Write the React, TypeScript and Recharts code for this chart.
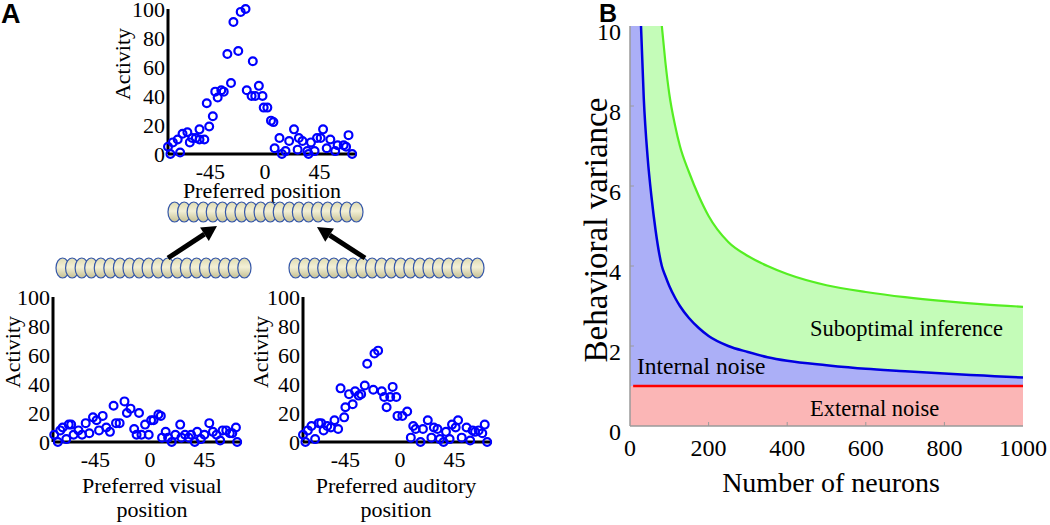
import React from 'react';
import {
  ScatterChart, Scatter, ComposedChart, Area, Line, XAxis, YAxis, ReferenceLine,
} from 'recharts';

// Panel A: population activity
const combinedPos = [-80, -78, -76, -72, -70, -68, -64, -62, -60, -57, -54, -54, -50, -48, -46, -43, -41, -39, -36, -34, -31, -28, -26, -22, -20, -16, -15, -11, -10, -8, -5, -2, -1, 2, 5, 7, 8, 12, 14, 17, 20, 24, 27, 28, 31, 35, 36, 38, 41, 43, 46, 48, 51, 54, 58, 60, 65, 67, 69, 72];
const combinedAct = [5, 0, 8, 10, 1, 14, 15, 8, 11, 11, 17, 10, 10, 35, 19, 26, 43, 39, 44, 43, 69, 49, 91, 71, 98, 100, 44, 40, 64, 40, 47, 40, 32, 32, 23, 22, 4, 11, 0, 2, 9, 17, 3, 11, 9, 2, 0, 8, 2, 11, 11, 17, 4, 10, 2, 6, 6, 5, 13, 0];

const visualPos = [-79, -76, -74, -72, -69, -67, -65, -63, -59, -56, -53, -50, -47, -44, -42, -39, -36, -33, -30, -28, -25, -21, -19, -16, -13, -11, -9, -7, -4, -1, 1, 3, 7, 9, 10, 13, 15, 18, 21, 25, 26, 29, 32, 34, 37, 39, 42, 45, 49, 52, 55, 58, 60, 63, 66, 68, 71, 72];
const visualAct = [5, 0, 8, 10, 2, 12, 12, 5, 8, 5, 13, 6, 17, 15, 8, 18, 10, 7, 25, 13, 13, 28, 20, 23, 9, 5, 20, 5, 12, 5, 15, 15, 19, 18, 3, 7, 3, 0, 5, 12, 3, 5, 3, 5, 0, 7, 2, 5, 13, 7, 5, 1, 8, 8, 6, 6, 10, 0];

const auditoryPos = [-80, -78, -76, -73, -70, -67, -65, -63, -60, -57, -54, -51, -49, -46, -45, -42, -39, -37, -34, -32, -29, -27, -22, -21, -18, -15, -13, -11, -8, -6, -3, -2, 2, 6, 9, 11, 13, 17, 19, 23, 26, 28, 31, 33, 36, 38, 41, 43, 46, 48, 51, 55, 58, 60, 62, 65, 68, 70, 72];
const auditoryAct = [5, 0, 8, 11, 2, 13, 13, 8, 11, 10, 15, 9, 37, 17, 24, 33, 26, 35, 32, 33, 39, 54, 36, 61, 63, 35, 31, 24, 31, 38, 31, 18, 18, 21, 3, 11, 9, 0, 9, 15, 3, 10, 9, 2, 0, 7, 2, 12, 10, 15, 3, 10, 1, 8, 7, 8, 6, 12, 0];

const positionTicks = [-45, 0, 45];
const activityTicks = [0, 20, 40, 60, 80, 100];
const neuronCount = 20;

// Panel B: behavioural variance vs number of neurons
const neurons = [28, 35, 45, 55, 65, 81, 90, 100, 115, 127, 150, 175, 200, 250, 300, 350, 400, 500, 600, 700, 800, 900, 1000];
const internalNoise = [10, 8.2, 6.7, 5.7, 4.9, 4.0, 3.75, 3.5, 3.2, 3.0, 2.7, 2.45, 2.25, 2.0, 1.85, 1.72, 1.63, 1.52, 1.43, 1.37, 1.31, 1.26, 1.21];
const suboptimal = [null, null, null, null, null, 10, 9.1, 8.3, 7.5, 7.0, 6.35, 5.75, 5.25, 4.6, 4.25, 4.0, 3.8, 3.52, 3.35, 3.22, 3.12, 3.04, 2.98];
const externalNoise = 1;
const varianceMax = 10;
const neuronTicks = [0, 200, 400, 600, 800, 1000];
const varianceTicks = [0, 2, 4, 6, 8, 10];

const serif = '"Liberation Serif", "Times New Roman", serif';
const sans = '"Liberation Sans", Arial, sans-serif';

const ring = (p: any) => (
  <circle cx={p.cx} cy={p.cy} r={3.9} fill="none" stroke="#0000ff" strokeWidth={2.2} />
);

const makeTick = (size: number, axis: 'x' | 'y', shift = 0) => (p: any) => (
  <text x={p.x} y={p.y + shift} textAnchor={axis === 'x' ? 'middle' : 'end'}
    dy={axis === 'x' ? '0.71em' : '0.355em'} fontSize={size} fontFamily={serif} fill="#000">
    {p.payload.value}
  </text>
);

function ActivityPlot({ left, top, width, margin, yWidth, pos, act }: any) {
  const points = pos.map((p: number, i: number) => ({ pos: p, act: act[i] }));
  return (
    <div style={{ position: 'absolute', left, top }}>
      <ScatterChart width={width} height={200} margin={margin}>
        <XAxis type="number" dataKey="pos" domain={[-80, 76]} ticks={positionTicks} interval={0}
          axisLine={{ stroke: '#000', strokeWidth: 3 }} tickLine={false} tickSize={0} tickMargin={9}
          height={30} tick={makeTick(22, 'x')} />
        <YAxis type="number" dataKey="act" domain={[0, 100]} ticks={activityTicks} interval={0}
          axisLine={{ stroke: '#000', strokeWidth: 3 }} tickLine={false} tickSize={0} tickMargin={3}
          width={yWidth} tick={makeTick(22, 'y')} />
        <Scatter data={points} shape={ring} isAnimationActive={false} />
      </ScatterChart>
    </div>
  );
}

function NeuronRow({ x, y }: { x: number; y: number }) {
  const rx = 6.6;
  const step = (195 - 2 * rx) / (neuronCount - 1);
  return (
    <g>
      {Array.from({ length: neuronCount }, (_, i) => (
        <ellipse key={i} cx={x + rx + i * step} cy={y} rx={rx} ry={10}
          fill="url(#neuronFill)" stroke="#3557a8" strokeWidth={1.2} />
      ))}
    </g>
  );
}

function Arrow({ x1, y1, x2, y2 }: any) {
  const a = Math.atan2(y2 - y1, x2 - x1);
  const head = 15, half = 8;
  const bx = x2 - head * Math.cos(a), by = y2 - head * Math.sin(a);
  const px = -Math.sin(a) * half, py = Math.cos(a) * half;
  return (
    <g>
      <line x1={x1} y1={y1} x2={bx} y2={by} stroke="#000" strokeWidth={5} />
      <polygon points={`${x2},${y2} ${bx + px},${by + py} ${bx - px},${by - py}`} fill="#000" />
    </g>
  );
}

function VariancePlot() {
  const rows: any[] = [{ n: 0, internal: [externalNoise, varianceMax], sub: null, blue: null, green: null }];
  neurons.forEach((n, i) => {
    const b = internalNoise[i];
    const g = suboptimal[i];
    rows.push({
      n,
      internal: [externalNoise, b],
      sub: [b, g === null ? varianceMax : g],
      blue: b,
      green: g,
    });
  });
  rows.forEach((r) => { r.ext = [0, externalNoise]; });
  return (
    <div style={{ position: 'absolute', left: 560, top: 0 }}>
      <ComposedChart width={490} height={525} data={rows} margin={{ top: 26, right: 27, bottom: 59, left: 0 }}>
        <XAxis type="number" dataKey="n" domain={[0, 1000]} ticks={neuronTicks} interval={0}
          axisLine={{ stroke: '#9a9a9a', strokeWidth: 1.5 }} tickLine={false} tickSize={0} tickMargin={13}
          height={40} tick={makeTick(24, 'x')} />
        <YAxis type="number" domain={[0, varianceMax]} ticks={varianceTicks} interval={0}
          axisLine={{ stroke: '#9a9a9a', strokeWidth: 1.5 }} tickLine={false} tickSize={0} tickMargin={9}
          width={70} tick={makeTick(24, 'y', 5)} />
        <Area dataKey="ext" type="linear" stroke="none" fill="#fbb6b6" fillOpacity={1} isAnimationActive={false} />
        <Area dataKey="internal" type="monotone" stroke="none" fill="#abaff7" fillOpacity={1} isAnimationActive={false} />
        <Area dataKey="sub" type="monotone" stroke="none" fill="#c4fcb8" fillOpacity={1} isAnimationActive={false} />
        {neuronTicks.slice(1, -1).map((t) => (
          <ReferenceLine key={'x' + t} segment={[{ x: t, y: 0 }, { x: t, y: 0.1 }]} stroke="#9a9a9a" />
        ))}
        {varianceTicks.slice(1, -1).map((t) => (
          <ReferenceLine key={'y' + t} segment={[{ x: 0, y: t }, { x: 10, y: t }]} stroke="#9a9a9a" />
        ))}
        <ReferenceLine segment={[{ x: 8, y: externalNoise }, { x: 1000, y: externalNoise }]} stroke="#ff0000" strokeWidth={2.5} />
        <Line dataKey="blue" type="monotone" stroke="#0000e0" strokeWidth={2.5} dot={false} isAnimationActive={false} />
        <Line dataKey="green" type="monotone" stroke="#55ee22" strokeWidth={2.2} dot={false} isAnimationActive={false} />
      </ComposedChart>
    </div>
  );
}

export default function App() {
  return (
    <div style={{ position: 'absolute', left: 0, top: 0, width: 1050, height: 525, background: '#fff', overflow: 'hidden' }}>
      <ActivityPlot left={100} top={1} width={270} margin={{ top: 8, right: 13, bottom: 17, left: 0 }} yWidth={68}
        pos={combinedPos} act={combinedAct} />
      <ActivityPlot left={0} top={280} width={260} margin={{ top: 17, right: 18, bottom: 8, left: 0 }} yWidth={53}
        pos={visualPos} act={visualAct} />
      <ActivityPlot left={250} top={280} width={260} margin={{ top: 17, right: 18, bottom: 8, left: 0 }} yWidth={53}
        pos={auditoryPos} act={auditoryAct} />
      <VariancePlot />
      <svg width={1050} height={525} style={{ position: 'absolute', left: 0, top: 0, pointerEvents: 'none' }}>
        <defs>
          <linearGradient id="neuronFill" x1="0" y1="0" x2="0" y2="1">
            <stop offset="0" stopColor="#dedab0" />
            <stop offset="0.45" stopColor="#f3f0d6" />
            <stop offset="1" stopColor="#c4bf92" />
          </linearGradient>
        </defs>
        <text x={1} y={23} fontFamily={sans} fontWeight="bold" fontSize={27}>A</text>
        <text x={599} y={22} fontFamily={sans} fontWeight="bold" fontSize={25}>B</text>

        <g fontFamily={serif} fontSize={22} fill="#000" textAnchor="middle">
          <text transform="translate(130,64) rotate(-90)">Activity</text>
          <text transform="translate(20,352) rotate(-90)">Activity</text>
          <text transform="translate(268,352) rotate(-90)">Activity</text>
          <text x={262} y={198}>Preferred position</text>
          <text x={152} y={493}>Preferred visual</text>
          <text x={152} y={517}>position</text>
          <text x={396} y={493}>Preferred auditory</text>
          <text x={396} y={517}>position</text>
        </g>

        <NeuronRow x={168} y={212} />
        <NeuronRow x={56} y={268} />
        <NeuronRow x={289} y={268} />
        <Arrow x1={168} y1={258} x2={217} y2={226} />
        <Arrow x1={365} y1={258} x2={317} y2={227} />

        <g fontFamily={serif} fill="#000">
          <text transform="translate(607,230) rotate(-90)" textAnchor="middle" fontSize={33}>Behavioral variance</text>
          <text x={831} y={492} textAnchor="middle" fontSize={28}>Number of neurons</text>
          <text x={810} y={336} fontSize={22.5}>Suboptimal inference</text>
          <text x={637} y={374} fontSize={23.5}>Internal noise</text>
          <text x={810} y={416} fontSize={22.5}>External noise</text>
        </g>
      </svg>
    </div>
  );
}
